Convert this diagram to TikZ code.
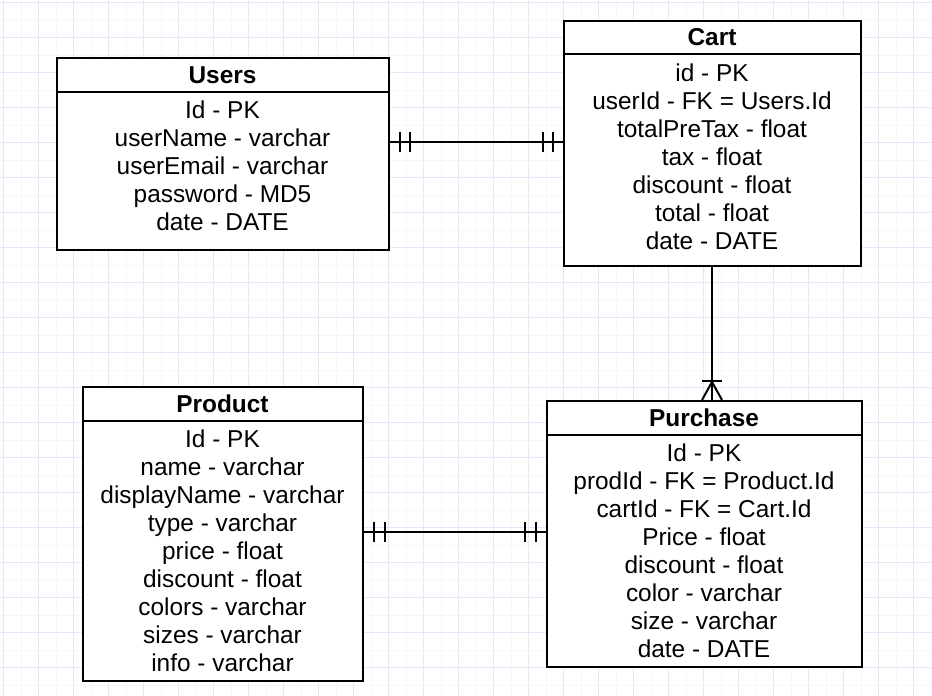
\documentclass[tikz,border=0pt]{standalone}
\usepackage{fontspec}
\setmainfont{Liberation Sans}
\usetikzlibrary{calc}
\definecolor{gridmajor}{RGB}{232,231,250}
\definecolor{gridminor}{RGB}{246,246,252}
\tikzset{
  entity/.style={draw=black, line width=2pt, fill=white, rectangle, anchor=north west, inner sep=0pt},
  hdrline/.style={draw=black, line width=2pt},
  rowtxt/.style={anchor=base, inner sep=0pt, font=\fontsize{24.4}{28}\selectfont},
  ttl/.style={anchor=base, inner sep=0pt, font=\fontsize{24.4}{28}\selectfont\bfseries},
  conn/.style={draw=black, line width=2pt},
  tick/.style={draw=black, line width=2pt}
}
\begin{document}
\begin{tikzpicture}[x=1pt,y=-1pt]
\useasboundingbox (0,0) rectangle (932,696);
\fill[white] (0,0) rectangle (932,696);
% grid
\foreach \i in {0,...,26} {
  \draw[gridminor, line width=1pt] (3.5+35*\i+17.5,0) -- (3.5+35*\i+17.5,696);
}
\foreach \j in {0,...,19} {
  \draw[gridminor, line width=1pt] (0,2.5+35*\j+17.5) -- (932,2.5+35*\j+17.5);
}
\foreach \i in {0,...,26} {
  \draw[gridmajor, line width=1pt] (3.5+35*\i,0) -- (3.5+35*\i,696);
}
\foreach \j in {0,...,19} {
  \draw[gridmajor, line width=1pt] (0,2.5+35*\j) -- (932,2.5+35*\j);
}

% Users
\node[entity, minimum width=332pt, minimum height=192pt] (users) at (56,57) {};
\draw[hdrline] (56,92) -- (388,92);
\node[ttl] (usersT) at (222.5,83) {Users};
\foreach \t [count=\k from 0] in {Id - PK, userName - varchar, userEmail - varchar, password - MD5, date - DATE} {
  \node[rowtxt] (usersR\k) at (222.5,118+28*\k) {\t};
}

% Cart
\node[entity, minimum width=297pt, minimum height=245pt] (cart) at (563,20) {};
\draw[hdrline] (563,54) -- (860,54);
\node[ttl] (cartT) at (712,45.5) {Cart};
\foreach \t [count=\k from 0] in {id - PK, userId - FK = Users.Id, totalPreTax - float, tax - float, discount - float, total - float, date - DATE} {
  \node[rowtxt] (cartR\k) at (712,81+28*\k) {\t};
}

% Product
\node[entity, minimum width=280pt, minimum height=294pt] (product) at (82,386) {};
\draw[hdrline] (82,421) -- (362,421);
\node[ttl] (productT) at (222.5,412) {Product};
\foreach \t [count=\k from 0] in {Id - PK, name - varchar, displayName - varchar, type - varchar, price - float, discount - float, colors - varchar, sizes - varchar, info - varchar} {
  \node[rowtxt] (productR\k) at (222.5,447+28*\k) {\t};
}

% Purchase
\node[entity, minimum width=315pt, minimum height=266pt] (purchase) at (546,400) {};
\draw[hdrline] (546,435) -- (861,435);
\node[ttl] (purchaseT) at (704,426) {Purchase};
\foreach \t [count=\k from 0] in {Id - PK, prodId - FK = Product.Id, cartId - FK = Cart.Id, Price - float, discount - float, color - varchar, size - varchar, date - DATE} {
  \node[rowtxt] (purchaseR\k) at (704,461+28*\k) {\t};
}

% Users -- Cart (one to one)
\coordinate (uc1) at (users.east |- 0,142);
\coordinate (uc2) at (cart.west |- 0,142);
\draw[conn] (uc1) -- (uc2);
\draw[tick] ($(uc1)+(10,-10)$) -- ($(uc1)+(10,10)$);
\draw[tick] ($(uc1)+(20,-10)$) -- ($(uc1)+(20,10)$);
\draw[tick] ($(uc2)+(-10,-10)$) -- ($(uc2)+(-10,10)$);
\draw[tick] ($(uc2)+(-20,-10)$) -- ($(uc2)+(-20,10)$);

% Product -- Purchase (one to one)
\coordinate (pp1) at (product.east |- 0,532);
\coordinate (pp2) at (purchase.west |- 0,532);
\draw[conn] (pp1) -- (pp2);
\draw[tick] ($(pp1)+(10,-10)$) -- ($(pp1)+(10,10)$);
\draw[tick] ($(pp1)+(21,-10)$) -- ($(pp1)+(21,10)$);
\draw[tick] ($(pp2)+(-10,-10)$) -- ($(pp2)+(-10,10)$);
\draw[tick] ($(pp2)+(-21,-10)$) -- ($(pp2)+(-21,10)$);

% Cart -- Purchase (one to many)
\coordinate (cp1) at (cart.south -| 712,0);
\coordinate (cp2) at (purchase.north -| 712,0);
\draw[conn] (cp1) -- (cp2);
\draw[tick] ($(cp2)+(-10,-19)$) -- ($(cp2)+(10,-19)$);
\draw[conn] ($(cp2)+(-10,0)$) -- ($(cp2)+(0,-18)$) -- ($(cp2)+(10,0)$);
\end{tikzpicture}
\end{document}
